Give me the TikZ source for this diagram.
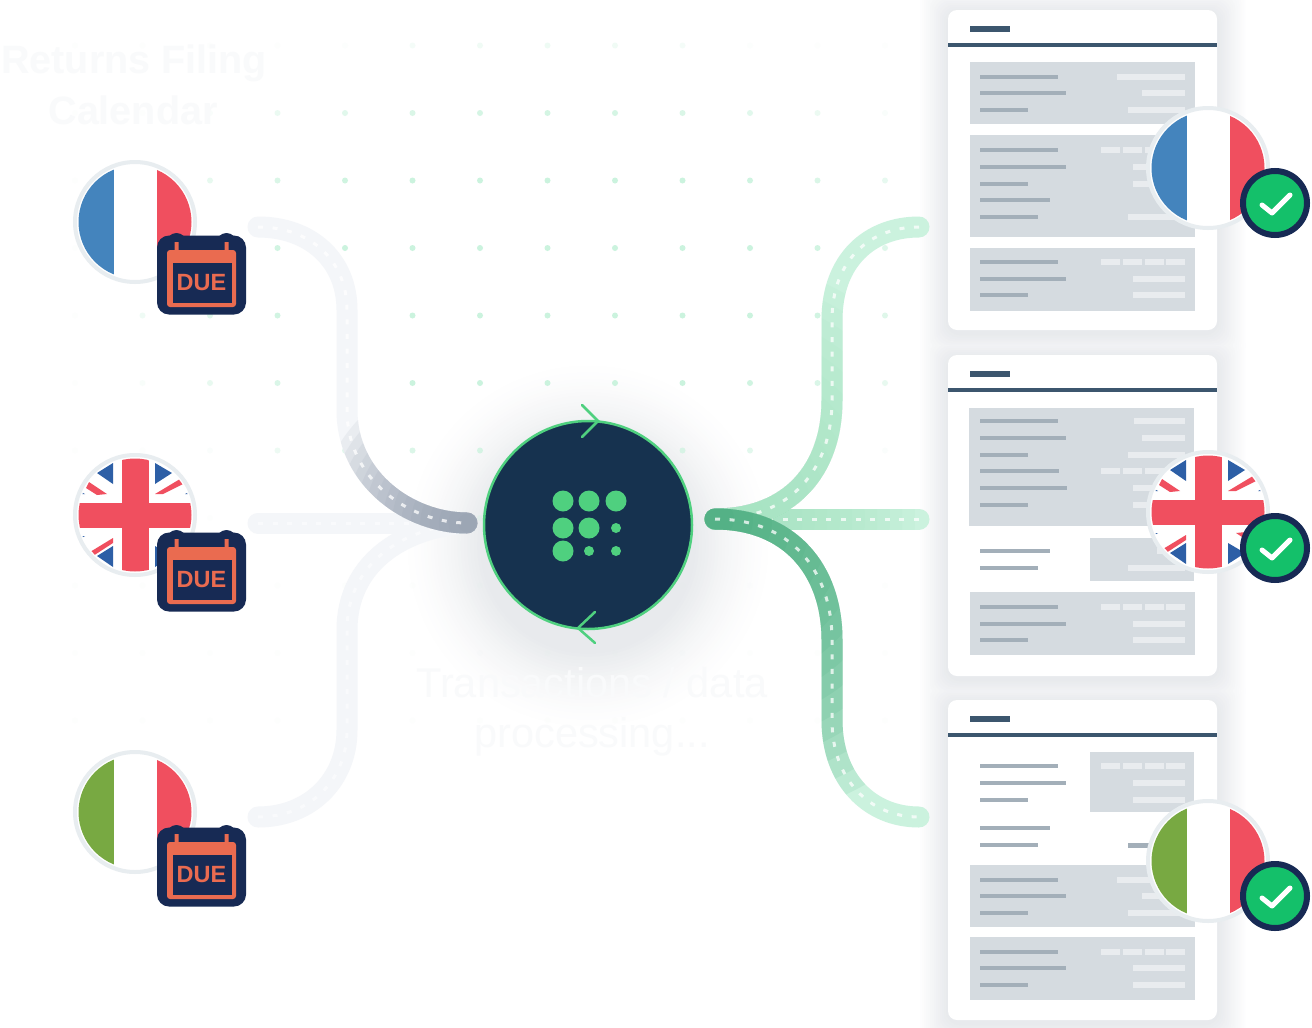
\documentclass[tikz,border=0pt]{standalone}
\usepackage{fontspec}
\setmainfont{Liberation Sans}
\definecolor{navy}{HTML}{172A54}
\definecolor{hubnavy}{HTML}{16324F}
\definecolor{hubgreen}{HTML}{4FD07F}
\definecolor{flagblue}{HTML}{4484BD}
\definecolor{flagred}{HTML}{F04F5F}
\definecolor{flaggreen}{HTML}{78A942}
\definecolor{ukblue}{HTML}{2D5FA6}
\definecolor{ringgrey}{HTML}{E8EDF0}
\definecolor{dueorange}{HTML}{EA6B50}
\definecolor{okgreen}{HTML}{14C06A}
\definecolor{panelgrey}{HTML}{D5DBE0}
\definecolor{linegrey}{HTML}{A3AFB9}
\definecolor{palebar}{HTML}{E9ECEF}
\definecolor{ruleblue}{HTML}{3C566E}
\definecolor{griddot}{HTML}{CBF3DE}
\definecolor{ghost}{HTML}{F9FAFB}
\definecolor{roadlight}{HTML}{CBF2DE}
\definecolor{roadmid}{HTML}{A2E4C0}
\definecolor{roaddark}{HTML}{3FA878}
\definecolor{roadpale}{HTML}{F4F6F9}
\definecolor{roadgrey}{HTML}{8E99AA}
\definecolor{shadowtint}{HTML}{E8EAED}
\tikzset{
  roadbase/.style={line width=21pt,line cap=round},
  roadline/.style={draw=white,draw opacity=.75,line width=3pt,dash pattern=on 5pt off 9.6pt},
  flagring/.style={circle,draw=ringgrey,line width=4pt,fill=white,minimum size=120pt,inner sep=0pt},
  badgebody/.style={rectangle,rounded corners=12pt,fill=navy,minimum width=89pt,minimum height=79pt,inner sep=0pt},
  checkdisc/.style={circle,draw=navy,line width=6pt,fill=okgreen,minimum size=64pt,inner sep=0pt},
  checkmark/.style={draw=white,line width=5pt,line cap=round,line join=round},
  cardbox/.style={rectangle,rounded corners=9pt,fill=white,minimum width=269pt,inner sep=0pt},
  ghosttext/.style={text=ghost,anchor=base,inner sep=0pt},
  ghosttop/.style={ghosttext,font=\fontsize{39.5}{39.5}\selectfont\bfseries},
  ghostlow/.style={ghosttext,font=\fontsize{41.5}{41.5}\selectfont},
  duetext/.style={text=dueorange,font=\fontsize{23.5}{23.5}\selectfont\bfseries,inner sep=0pt},
}
% grey panel
\newcommand\panel[4]{\fill[panelgrey] (#1,#2) rectangle (#3,#4);}
% dark text line, left column
\newcommand\txtline[2]{\fill[linegrey] (980,#1-1.8) rectangle (#2,#1+1.8);}
% pale value bar, right column
\newcommand\valbar[2]{\fill[palebar] (#2,#1-3) rectangle (1185,#1+3);}
\newcommand\valsegs[1]{\foreach \segx in {1101,1123,1145,1166}{\fill[palebar] (\segx,#1-3) rectangle (\segx+19,#1+3);}}
% card: name, top, bottom
\newcommand\cardat[3]{%
  \node[cardbox,minimum height=#3-#2] (#1) at (1082.5,{(#2+#3)/2}) {};
  \fill[ruleblue] (970,#2+16) rectangle (1010,#2+22);
  \fill[ruleblue] (948,#2+33) rectangle (1217,#2+37);
}
% stripes on a tricolour disc
\newcommand\tricolour[1]{%
  \begin{scope}
    \clip (0,0) circle (56.5pt);
    \fill[#1] (-60,-60) rectangle (-21,60);
    \fill[flagred] (22,-60) rectangle (60,60);
  \end{scope}}
\newcommand\ukflag{%
  \begin{scope}
    \clip (0,0) circle (56.5pt);
    \fill[ukblue] (-22,-52) -- (-22,-31) -- (-38,-42) -- cycle;
    \fill[ukblue] (20,-52) -- (20,-31) -- (37,-42) -- cycle;
    \fill[ukblue] (-22,52) -- (-22,31) -- (-38,41) -- cycle;
    \fill[ukblue] (20,52) -- (20,31) -- (37,41) -- cycle;
    \fill[ukblue] (-56,-24) -- (-50,-21) -- (-56,-21) -- cycle;
    \fill[ukblue] (56,-24) -- (50,-21) -- (56,-21) -- cycle;
    \fill[ukblue] (-56,24) -- (-50,21) -- (-56,21) -- cycle;
    \fill[ukblue] (56,24) -- (50,21) -- (56,21) -- cycle;
    \fill[flagred] (-46,-33) -- (-28,-21) -- (-38,-20) -- (-49,-27) -- cycle;
    \fill[flagred] (20,-21) -- (45,-36) -- (48,-31) -- (28,-21) -- cycle;
    \fill[flagred] (-22,23) -- (-45,37) -- (-42,41) -- (-22,28) -- cycle;
    \fill[flagred] (28,21) -- (46,33) -- (49,27) -- (38,20) -- cycle;
    \fill[flagred] (-13.5,-60) rectangle (13.5,60);
    \fill[flagred] (-60,-12.5) rectangle (60,12.5);
  \end{scope}}
\newcommand\duebadge[3]{%
  \begin{scope}[shift={(#2,#3)}]
    \node[badgebody] (#1) at (0,0) {};
    \fill[navy] (-25,-32) circle (10pt) (25,-32) circle (10pt);
    \fill[dueorange,rounded corners=3pt] (-34.5,-25) rectangle (34.5,32);
    \fill[dueorange] (-27,-33) rectangle (-23,-24) (23,-33) rectangle (27,-24);
    \fill[navy] (-29,-12) rectangle (30,28);
    \node[duetext] (#1t) at (0,8) {DUE};
  \end{scope}}
\newcommand\okcheck[3]{%
  \begin{scope}[shift={(#2,#3)}]
    \node[checkdisc] (#1) at (0,0) {};
    \draw[checkmark] (-13,2) -- (-3,10) -- (15,-8);
  \end{scope}}
\newcommand\gradroad[5]{% path, base, overlay, gradient centre, max radius
  \draw[roadbase,draw=#2] #1;
  \foreach \ri in {1,...,16}{
    \begin{scope}
      \clip (#4) circle ({#5*\ri/16*1pt});
      \draw[roadbase,draw=#3,draw opacity=.1] #1;
    \end{scope}}
  \draw[roadline] #1;}
\begin{document}
\begin{tikzpicture}[x=1pt,y=-1pt]
\useasboundingbox (0,0) rectangle (1312,1028);
\fill[white] (0,0) rectangle (1312,1028);

% soft card shadows, outermost first
\foreach \gi in {14,...,1}{
  \pgfmathsetmacro\tint{(15-\gi)/14*100}
  \foreach \ctop/\cbot in {10/330,355/676,700/1020}{
    \fill[shadowtint!\tint!white,rounded corners=14pt]
      (948-2*\gi,\ctop-2*\gi+3) rectangle (1217+2*\gi,\cbot+2*\gi+3);}}

% hub glow, outermost first
\foreach \gi in {24,...,1}{
  \pgfmathsetmacro\tint{((25-\gi)/24)^1.5*100}
  \fill[shadowtint!\tint!white] (588,546) circle ({(104+3.3*\gi)*1pt});}

% dot grid
\foreach \i in {0,...,12}{
  \foreach \j in {0,...,10}{
    \pgfmathsetmacro\px{75+67.5*\i}
    \pgfmathsetmacro\py{45.5+67.5*\j}
    \pgfmathsetmacro\dotalpha{max(0.03,min(1,1.35-((\px-547)/400)^2-((\py-280)/230)^2))}
    \fill[griddot,fill opacity=\dotalpha] (\px,\py) circle (3pt);
  }}

% ghost captions
\node[ghosttop] (cap1a) at (134,73) {Returns Filing};
\node[ghosttop] (cap1b) at (133,124) {Calendar};
\node[ghostlow] (cap2a) at (592,697) {Transactions / data};
\node[ghostlow] (cap2b) at (592,747) {processing...};

% connector ends
\coordinate (lhubend) at (467,523);
\coordinate (rhubend) at (715,519);
\coordinate (ltop) at (258,227);
\coordinate (lmid) at (258,523);
\coordinate (lbot) at (258,817);
\coordinate (rtop) at (919,227);
\coordinate (rmid) at (919,519);
\coordinate (rbot) at (919,817);

% left connectors
\draw[roadbase,draw=roadpale] (lmid) -- (lhubend);
\draw[roadline,draw opacity=.5] (lmid) -- (lhubend);
\draw[roadbase,draw=roadpale] (lbot) .. controls (310,817) and (347,780) .. (347,730) -- (347,630) .. controls (347,565) and (400,528) .. (lhubend);
\draw[roadline,draw opacity=.5] (lbot) .. controls (310,817) and (347,780) .. (347,730) -- (347,630) .. controls (347,565) and (400,528) .. (lhubend);
\gradroad{(ltop) .. controls (310,227) and (347,260) .. (347,310) -- (347,410) .. controls (347,480) and (410,523) .. (lhubend)}{roadpale}{roadgrey}{lhubend}{150}

% right connectors
\gradroad{(rmid) -- (rhubend)}{roadlight}{roadmid}{rhubend}{200}
\gradroad{(rtop) .. controls (870,227) and (832,260) .. (832,320) -- (832,400) .. controls (832,470) and (790,519) .. (rhubend)}{roadlight}{roadmid}{rhubend}{260}
\gradroad{(rhubend) .. controls (790,519) and (832,570) .. (832,640) -- (832,720) .. controls (832,780) and (870,817) .. (rbot)}{roadlight}{roaddark}{rhubend}{305}

% hub
\node[circle,fill=hubnavy,draw=hubgreen,line width=2.5pt,minimum size=208pt,inner sep=0pt] (hub) at (588,525) {};
\foreach \cx/\cy/\cr in {563/501/10.5,589/501/10.5,616/501/10.5,563/528/10.5,589/528/10.5,616/528/5,563/551/10.5,589/551/5,616/551/5}{
  \fill[hubgreen] (\cx,\cy) circle (\cr pt);}
\draw[hubgreen,line width=2.5pt,line cap=round,line join=miter] (582,405) -- (598,421) -- (582,437);
\draw[hubgreen,line width=2.5pt,line cap=round,line join=miter] (595,612) -- (578,628) -- (595,643);

% left flags
\begin{scope}[shift={(135,222)}]
  \node[flagring] (frL) at (0,0) {};
  \tricolour{flagblue}
\end{scope}
\duebadge{dueFr}{201.5}{275}
\begin{scope}[shift={(135,515)}]
  \node[flagring] (ukL) at (0,0) {};
  \ukflag
\end{scope}
\duebadge{dueUk}{201.5}{572}
\begin{scope}[shift={(135,812)}]
  \node[flagring] (itL) at (0,0) {};
  \tricolour{flaggreen}
\end{scope}
\duebadge{dueIt}{201.5}{867}

% card 1
\cardat{cardA}{10}{330}
\panel{970}{62}{1195}{124}
\txtline{77}{1058}\txtline{93}{1066}\txtline{110}{1028}
\valbar{77}{1117}\valbar{93}{1142}\valbar{110}{1128}
\panel{970}{135}{1195}{237}
\txtline{150}{1058}\txtline{166.7}{1066}\txtline{183.7}{1028}\txtline{200}{1050}\txtline{217}{1038}
\valsegs{150}\valbar{166.7}{1133}\valbar{183.7}{1133}\valbar{217}{1128}
\panel{970}{248}{1195}{311}
\txtline{262}{1058}\txtline{279}{1066}\txtline{295}{1028}
\valsegs{262}\valbar{279}{1133}\valbar{295}{1133}

% card 2
\cardat{cardB}{355}{676}
\panel{969}{408}{1194}{526}
\txtline{421}{1058}\txtline{438}{1066}\txtline{455}{1028}\txtline{471}{1059}\txtline{488}{1067}\txtline{505}{1028}
\valbar{421}{1134}\valbar{438}{1142}\valbar{455}{1128}\valsegs{471}\valbar{488}{1133}\valbar{505}{1133}
\txtline{551}{1050}\txtline{568}{1038}
\panel{1090}{538}{1194}{581}
\valbar{551}{1157}\valbar{568}{1128}
\panel{970}{592}{1195}{655}
\txtline{607}{1058}\txtline{624}{1066}\txtline{640}{1028}
\valsegs{607}\valbar{624}{1133}\valbar{640}{1133}

% card 3
\cardat{cardC}{700}{1020}
\txtline{766}{1058}\txtline{783}{1066}\txtline{800}{1028}
\panel{1090}{752}{1194}{812}
\valsegs{766}\valbar{783}{1133}\valbar{800}{1133}
\txtline{828}{1050}\txtline{845}{1038}
\fill[linegrey] (1128,842.5) rectangle (1160,847.5);
\panel{970}{865}{1195}{927}
\txtline{880}{1058}\txtline{896}{1066}\txtline{913}{1028}
\valbar{880}{1117}\valbar{896}{1142}\valbar{913}{1128}
\panel{970}{937}{1195}{1000}
\txtline{952}{1058}\txtline{968}{1066}\txtline{985}{1028}
\valsegs{952}\valbar{968}{1133}\valbar{985}{1133}

% card flags and checks
\begin{scope}[shift={(1208,168)}]
  \node[flagring] (frR) at (0,0) {};
  \tricolour{flagblue}
\end{scope}
\okcheck{okFr}{1275}{203}
\begin{scope}[shift={(1208,512)}]
  \node[flagring] (ukR) at (0,0) {};
  \ukflag
\end{scope}
\okcheck{okUk}{1275}{548}
\begin{scope}[shift={(1208,861)}]
  \node[flagring] (itR) at (0,0) {};
  \tricolour{flaggreen}
\end{scope}
\okcheck{okIt}{1275}{896}
\end{tikzpicture}
\end{document}
